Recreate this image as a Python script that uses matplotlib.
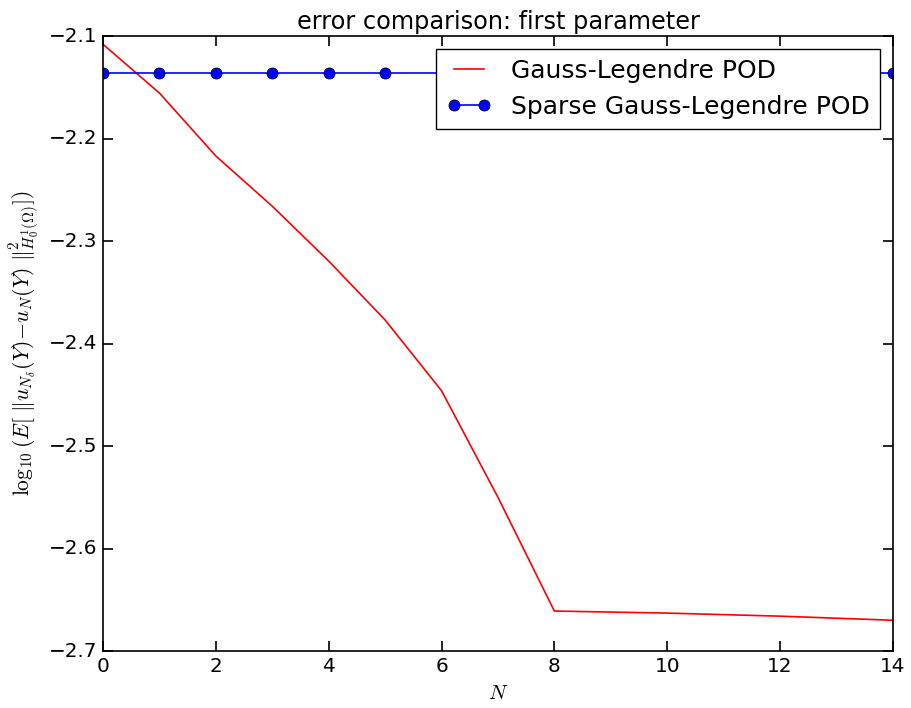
import numpy as np
import matplotlib
matplotlib.use('Agg')
import matplotlib.pyplot as plt

plt.style.use('classic')
plt.rcParams['font.size'] = 14.4
plt.rcParams['lines.linewidth'] = 1.2
plt.rcParams['axes.linewidth'] = 1.2

# data
n_gl = [0, 1, 2, 3, 4, 5, 6, 7, 8, 10, 12, 14]
err_gl = [-2.108, -2.1556, -2.217, -2.266, -2.3195, -2.377, -2.446, -2.550,
          -2.661, -2.663, -2.666, -2.670]

n_sparse = list(range(0, 15))
err_sparse = [-2.136] * len(n_sparse)

fig = plt.figure(figsize=(9.12, 7.08), dpi=100, facecolor='white')
ax = fig.add_subplot(111)
fig.subplots_adjust(left=0.113, right=0.979, top=0.949, bottom=0.0805)

ax.plot(n_gl, err_gl, 'r-', label='Gauss-Legendre POD')
ax.plot(n_sparse, err_sparse, 'b-o', markersize=8, label='Sparse Gauss-Legendre POD')

ax.set_xlim(0, 14)
ax.set_ylim(-2.7, -2.1)
ax.set_title('error comparison: first parameter', fontsize=17.3)
ax.set_xlabel('$N$', fontsize=15)
ax.set_ylabel(r'$\log_{10}(E[\ \|u_{N_\delta}(Y)\!-\!u_N(Y)\ \|^2_{H^1_0(\Omega)}])$', fontsize=15.5)
ax.tick_params(labelsize=14.4, width=1.2, length=7)
ax.legend(loc='upper right', fontsize=18, handlelength=1.8)

fig.savefig('out.png', dpi=100, facecolor='white')
